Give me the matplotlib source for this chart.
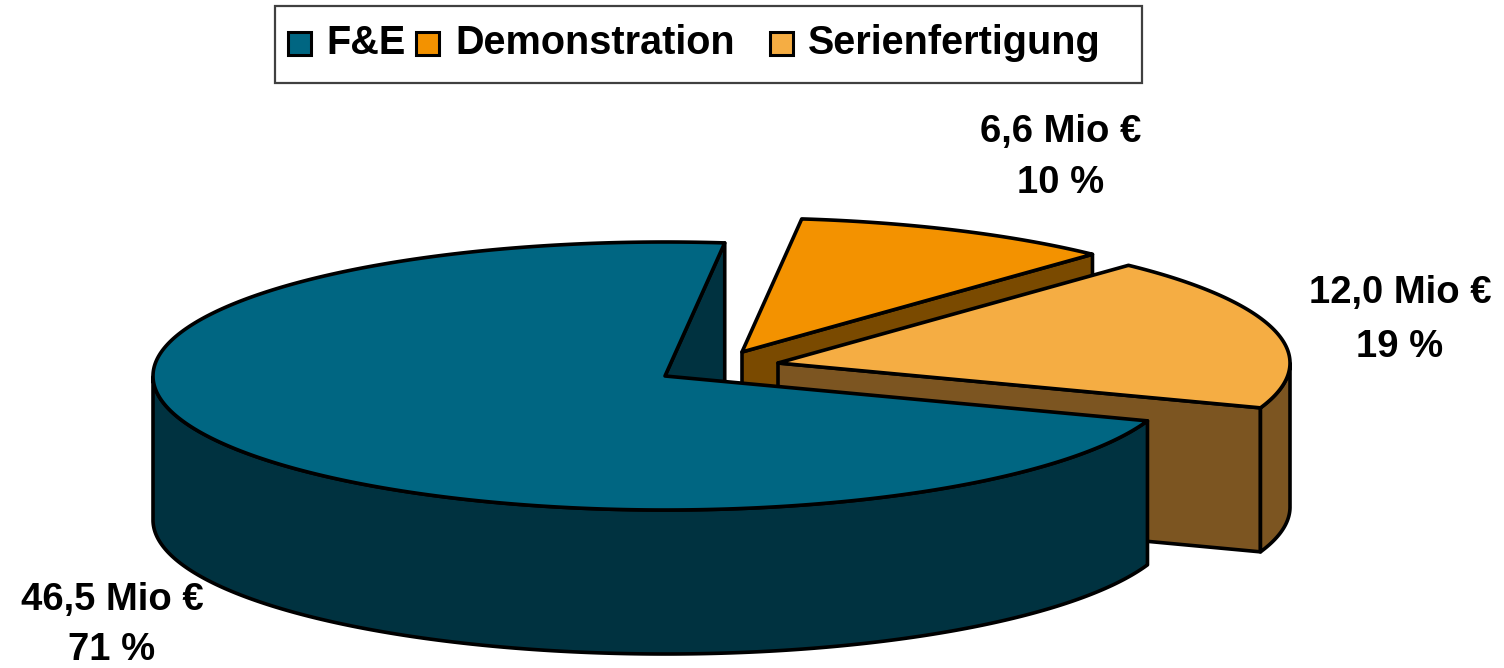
import numpy as np
import matplotlib
matplotlib.use('Agg')
import matplotlib.pyplot as plt
from matplotlib.patches import Polygon, Rectangle

plt.rcParams['font.family'] = ['Liberation Sans', 'DejaVu Sans']

# data
categories = ['F&E', 'Demonstration', 'Serienfertigung']
values = [46.5, 6.6, 12.0]          # Mio EUR
percent = [71, 10, 19]
top_colors = ['#006682', '#F39200', '#F5AD43']
side_colors = ['#003240', '#7A4A00', '#7C5521']

# 3d pie geometry (pixel coordinates, y downwards)
cx, cy = 665, 376
rx, ry = 512, 134
depth = 144
start = 83.3
offsets = [(0, 0), (77, -24), (113, -13)]
label_pos = [(112, 610, 660), (1061, 142, 193), (1400, 303, 357)]

span = np.array(values) / sum(values) * 360
ranges = [(start, start + span[0]),
          (start - span[1], start),
          (start - span[1] - span[2], start - span[1])]


def pt(theta, ox, oy, dz=0):
    t = np.radians(theta)
    return cx + ox + rx * np.cos(t), cy + oy - ry * np.sin(t) + dz


fig = plt.figure(figsize=(15.04, 6.68), dpi=100)
ax = fig.add_axes([0, 0, 1, 1])
ax.set_xlim(0, 1504)
ax.set_ylim(668, 0)
ax.axis('off')

kw = dict(edgecolor='black', linewidth=2.6, joinstyle='round')
z = 1
# draw back slices first
for i in [1, 2, 0]:
    a1, a2 = ranges[i]
    ox, oy = offsets[i]
    c = (cx + ox, cy + oy)
    # radial faces
    if np.cos(np.radians(a1)) > 0:
        e = pt(a1, ox, oy)
        quad = [c, e, (e[0], e[1] + depth), (c[0], c[1] + depth)]
        ax.add_patch(Polygon(quad, closed=True, facecolor=side_colors[i], zorder=z, **kw))
        z += 1
    if np.cos(np.radians(a2)) < 0:
        e = pt(a2, ox, oy)
        quad = [c, e, (e[0], e[1] + depth), (c[0], c[1] + depth)]
        ax.add_patch(Polygon(quad, closed=True, facecolor=side_colors[i], zorder=z, **kw))
        z += 1
    # outer curved side (front half only)
    th = np.linspace(a1, a2, 600)
    vis = np.sin(np.radians(th)) <= 0
    idx = np.where(vis)[0]
    if len(idx):
        runs = np.split(idx, np.where(np.diff(idx) > 1)[0] + 1)
        for r in runs:
            t = th[r]
            top = [pt(v, ox, oy) for v in t]
            bot = [pt(v, ox, oy, depth) for v in t[::-1]]
            ax.add_patch(Polygon(top + bot, closed=True, facecolor=side_colors[i], zorder=z, **kw))
            z += 1
    # top face
    arc = [pt(v, ox, oy) for v in np.linspace(a1, a2, 400)]
    ax.add_patch(Polygon([c] + arc, closed=True, facecolor=top_colors[i], zorder=z, **kw))
    z += 1

# data labels
for i in range(3):
    x, y1, y2 = label_pos[i]
    txt = ('%.1f' % values[i]).replace('.', ',') + ' Mio €'
    ax.text(x, y1, txt, ha='center', va='baseline', fontsize=27.5, fontweight='bold', zorder=50)
    ax.text(x, y2, '%d %%' % percent[i], ha='center', va='baseline', fontsize=27.5,
            fontweight='bold', zorder=50)

# legend
ax.add_patch(Rectangle((275, 6), 867, 77, facecolor='white', edgecolor='#404040',
                       linewidth=1.6, zorder=40))
leg_marker_x = [288, 416, 770]
leg_text_x = [326, 455, 808]
for i in range(3):
    ax.add_patch(Rectangle((leg_marker_x[i], 32), 23, 23, facecolor=top_colors[i],
                           edgecolor='black', linewidth=2.2, zorder=41))
    ax.text(leg_text_x[i], 54, categories[i], ha='left', va='baseline', fontsize=28.5,
            fontweight='bold', zorder=42)

plt.savefig('out.png', dpi=100)
